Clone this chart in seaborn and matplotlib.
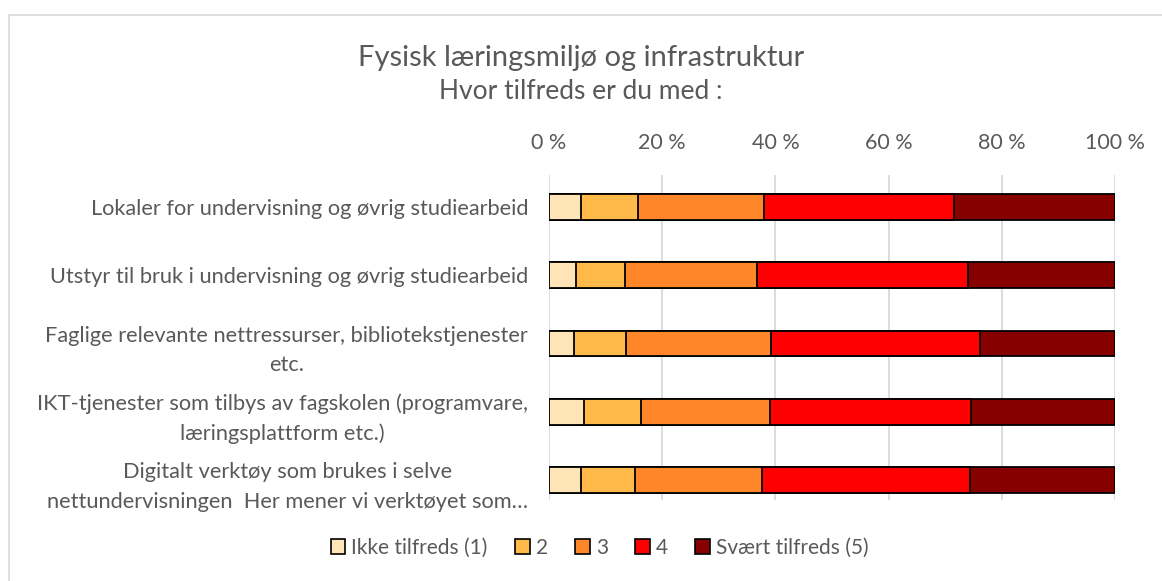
import seaborn as sns
import matplotlib.pyplot as plt
import matplotlib.patches as mpatches
import pandas as pd
import numpy as np

categories = [
    "Lokaler for undervisning og øvrig studiearbeid",
    "Utstyr til bruk i undervisning og øvrig studiearbeid",
    "Faglige relevante nettressurser, bibliotekstjenester\netc.",
    "IKT-tjenester som tilbys av fagskolen (programvare,\nlæringsplattform etc.)",
    "Digitalt verktøy som brukes i selve\nnettundervisningen  Her mener vi verktøyet som…",
]
levels = ["Ikke tilfreds (1)", "2", "3", "4", "Svært tilfreds (5)"]
colors = ["#FFE4B8", "#FFBA4A", "#FF8729", "#FF0000", "#870000"]

# share (%) per level, one list per category
lokaler = [5.7, 10.0, 22.2, 33.6, 28.5]
utstyr = [4.7, 8.7, 23.4, 37.2, 26.0]
nettress = [4.4, 9.2, 25.7, 36.9, 23.8]
ikt = [6.2, 10.1, 22.8, 35.4, 25.5]
digitalt = [5.7, 9.5, 22.4, 36.7, 25.7]

vals = np.array([lokaler, utstyr, nettress, ikt, digitalt])
vals = vals / vals.sum(axis=1, keepdims=True) * 100
cum = vals.cumsum(axis=1)

sns.set_style("white")
plt.rcParams["font.family"] = ["Lato", "DejaVu Sans"]
grey = "#595959"

fig = plt.figure(figsize=(11.62, 5.81), dpi=100)
ax = fig.add_axes([0.4725, 0.1394, 0.4871, 0.5594])

# draw from the full bar down so each level overlaps the previous
for i in range(len(levels) - 1, -1, -1):
    df = pd.DataFrame({"cat": categories, "x": cum[:, i]})
    sns.barplot(data=df, x="x", y="cat", color=colors[i], orient="h",
                width=0.38, edgecolor="black", linewidth=1.3, ax=ax,
                saturation=1, zorder=3)

ax.set_xlim(0, 100)
ax.set_ylim(4.293, -0.469)
ax.set_xticks([0, 20, 40, 60, 80, 100])
ax.set_xticklabels([f"{t} %" for t in range(0, 101, 20)])
ax.xaxis.tick_top()
ax.tick_params(axis="x", length=0, pad=16, labelsize=15.5, labelcolor=grey)
ax.tick_params(axis="y", length=0, pad=15, labelsize=15.7, labelcolor=grey)
for lbl in ax.get_yticklabels():
    lbl.set_multialignment("center")
    lbl.set_linespacing(1.6)
ax.grid(axis="x", color="#d9d9d9", linewidth=1.3, zorder=0)
ax.set_axisbelow(True)
for s in ax.spines.values():
    s.set_visible(False)
ax.set_xlabel("")
ax.set_ylabel("")

fig.text(0.5, 0.900, "Fysisk læringsmiljø og infrastruktur", ha="center",
         va="center", fontsize=21, color=grey)
fig.text(0.5, 0.843, "Hvor tilfreds er du med :", ha="center",
         va="center", fontsize=19, color=grey)

handles = [mpatches.Patch(facecolor=c, edgecolor="black", linewidth=1.2, label=l)
           for c, l in zip(colors, levels)]
fig.legend(handles=handles, loc="center", bbox_to_anchor=(0.516, 0.057), ncol=5,
           frameon=False, fontsize=15, labelcolor=grey, handlelength=0.7,
           handleheight=0.7, handletextpad=0.3, columnspacing=1.3)

fig.patches.append(mpatches.Rectangle((0.008, -0.01), 1.0, 0.984, transform=fig.transFigure,
                                      fill=False, edgecolor="#d9d9d9", linewidth=1.2))

fig.savefig("out.png", dpi=100)
